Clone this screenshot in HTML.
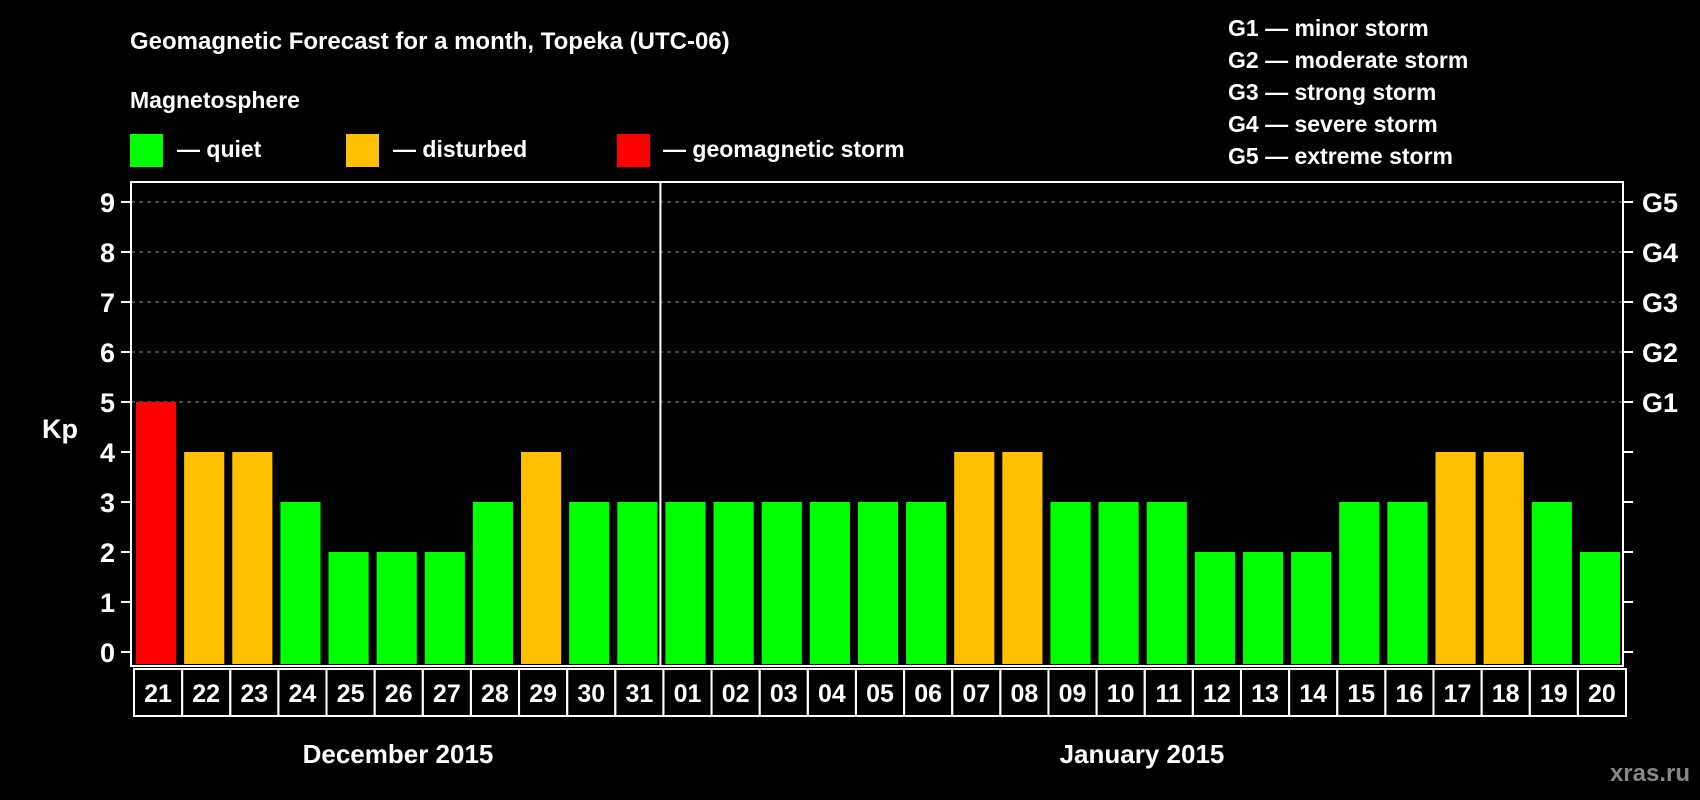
<!DOCTYPE html>
<html><head><meta charset="utf-8">
<style>
html,body{margin:0;padding:0;background:#000;}
svg{display:block;font-family:"Liberation Sans",Arial,sans-serif;font-weight:bold;}
</style></head>
<body>
<svg id="chart" width="1700" height="800" viewBox="0 0 1700 800" xmlns="http://www.w3.org/2000/svg">
<rect width="1700" height="800" fill="#000"/>
<text x="130" y="49" fill="#fff" font-size="24">Geomagnetic Forecast for a month, Topeka (UTC-06)</text>
<text x="130" y="108" fill="#fff" font-size="23">Magnetosphere</text>
<rect x="130" y="134" width="33" height="33" fill="#00ff00"/>
<text x="177" y="157" fill="#fff" font-size="23">— quiet</text>
<rect x="346" y="134" width="33" height="33" fill="#ffc000"/>
<text x="393" y="157" fill="#fff" font-size="23">— disturbed</text>
<rect x="617" y="134" width="33" height="33" fill="#ff0000"/>
<text x="663" y="157" fill="#fff" font-size="23">— geomagnetic storm</text>
<g fill="#fff" font-size="23">
<text x="1228" y="36">G1 — minor storm</text>
<text x="1228" y="68">G2 — moderate storm</text>
<text x="1228" y="100">G3 — strong storm</text>
<text x="1228" y="132">G4 — severe storm</text>
<text x="1228" y="164">G5 — extreme storm</text>
</g>
<text x="42" y="438" fill="#fff" font-size="27">Kp</text>
<g id="plot"></g>
<text x="398" y="763" fill="#fff" font-size="26" text-anchor="middle">December 2015</text>
<text x="1142" y="763" fill="#fff" font-size="26" text-anchor="middle">January 2015</text>
<text x="1690" y="781" fill="#888" font-size="24" text-anchor="end">xras.ru</text>
</svg>
<script>
const days = ["21","22","23","24","25","26","27","28","29","30","31","01","02","03","04","05","06","07","08","09","10","11","12","13","14","15","16","17","18","19","20"];
const kpValues = [5,4,4,3,2,2,2,3,4,3,3,3,3,3,3,3,3,4,4,3,3,3,2,2,2,3,3,4,4,3,2];
const yTicks = [0,1,2,3,4,5,6,7,8,9];
const gLabels = ["G1","G2","G3","G4","G5"];
const monthSplit = 11;

const NS = "http://www.w3.org/2000/svg";
const L = 131, R = 1623, T = 182, B = 666;
const y0 = 652, unit = 50;
const n = days.length;
const step = (R - L) / n;
function yScale(v){ return y0 - v * unit; }
function xScale(i){ return L + i * step; }
const g = document.getElementById('plot');
function mk(tag, attrs){ const e = document.createElementNS(NS, tag); for (const k in attrs) e.setAttribute(k, attrs[k]); g.appendChild(e); return e; }

yTicks.forEach(v => {
  const y = yScale(v);
  if (v >= 5) {
    const gl = mk('line', {x1:L, x2:R, y1:y, y2:y, stroke:'#888', 'stroke-width':1, 'stroke-dasharray':'4,4'});
    
    
  }
  const t1 = mk('line', {x1:L-10, x2:L, y1:y, y2:y, stroke:'#fff', 'stroke-width':2});
  
  
  const t2 = mk('line', {x1:R, x2:R+10, y1:y, y2:y, stroke:'#fff', 'stroke-width':2});
  
  
  const lab = mk('text', {x:L-16, y:y+10, fill:'#fff', 'font-size':27, 'text-anchor':'end'});
  lab.textContent = v;
  
  
  if (v >= 5) {
    const gt = mk('text', {x:R+19, y:y+10, fill:'#fff', 'font-size':27});
    gt.textContent = gLabels[v-5];
    
    
  }
});

kpValues.forEach((v, i) => {
  const color = v >= 5 ? '#ff0000' : (v === 4 ? '#ffc000' : '#00ff00');
  const bar = mk('rect', {x:xScale(i)+5, y:yScale(v), width:step-8, height:(B-2)-yScale(v), fill:color});
  
  
  const cell = mk('rect', {x:xScale(i)+3, y:669, width:step, height:47, fill:'none', stroke:'#fff', 'stroke-width':2});
  
  
  const lt = mk('text', {x:xScale(i)+3+step/2, y:702, fill:'#fff', 'font-size':25, 'text-anchor':'middle'});
  lt.textContent = days[i];
  
  
});

const frame = mk('rect', {x:L, y:T, width:R-L, height:B-T, fill:'none', stroke:'#fff', 'stroke-width':2});


const sx = xScale(monthSplit);
const sep = mk('line', {x1:sx, x2:sx, y1:T, y2:B, stroke:'#fff', 'stroke-width':2});


</script>
</body></html>
